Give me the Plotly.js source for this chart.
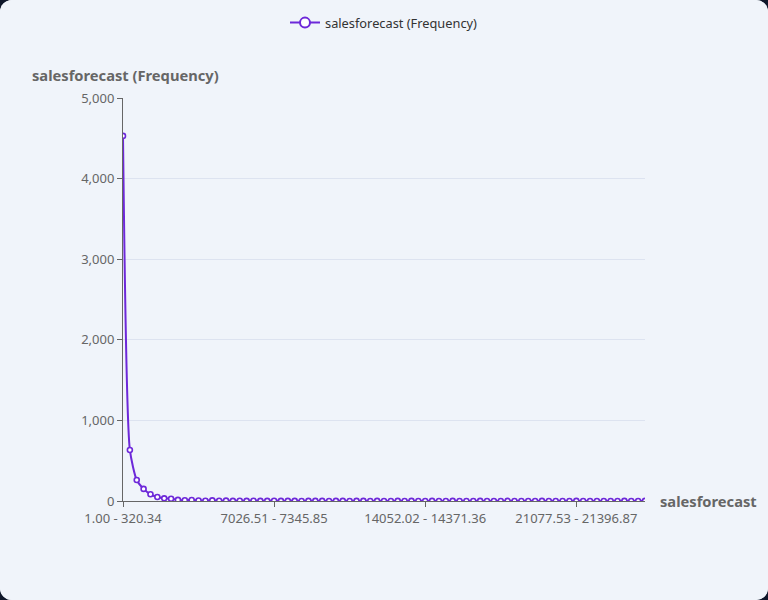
<!DOCTYPE html>
<html><head><meta charset="utf-8">
<script src="https://cdn.plot.ly/plotly-3.0.1.min.js"></script>
<style>
html,body{margin:0;padding:0;background:#0f172a;}
#chart{width:768px;height:600px;border-radius:12px;overflow:hidden;background:#f0f4fa;}
</style></head>
<body><div id="chart"></div>
<script>
// Bin edges of the salesforecast histogram
const binStart = 1.00;
const binWidth = 319.3413;
const binCount = 77;
const categories = [];
for (let i = 0; i < binCount; i++) {
  const lo = binStart + i * binWidth, hi = lo + binWidth;
  categories.push(lo.toFixed(2) + ' - ' + hi.toFixed(2));
}
// Frequencies
const frequency = [
  4530, 633, 260, 150, 83, 50, 33, 28, 14, 10, 12, 6, 4, 8, 3, 5, 2, 4, 2, 3,
  1, 2, 3, 1, 2, 1, 0, 2, 1, 1, 0, 1, 2, 0, 1, 1, 0, 1, 0, 0,
  1, 0, 1, 0, 0, 1, 0, 0, 1, 0, 0, 0, 1, 0, 0, 0, 1, 0, 0, 0,
  0, 1, 0, 0, 0, 0, 1, 0, 0, 0, 0, 0, 0, 1, 0, 0, 1
];
const tickLabels = [categories[0], categories[22], categories[44], categories[66]];
const seriesName = 'salesforecast (Frequency)';
const xTitle = 'salesforecast';

const purple = '#6d28d9';
const trace = {
  x: categories, y: frequency, type: 'scatter', mode: 'lines+markers',
  name: seriesName, showlegend: false,
  line: {color: purple, width: 2, shape: 'spline', smoothing: 0.6},
  marker: {color: '#ffffff', size: 5, line: {color: purple, width: 1.6}}
};
// legend entry only (no points), with the larger legend symbol
const legendTrace = {
  x: [null], y: [null], type: 'scatter', mode: 'lines+markers',
  name: seriesName, showlegend: true, hoverinfo: 'skip',
  line: {color: purple, width: 2},
  marker: {color: '#ffffff', size: 10, line: {color: purple, width: 2}}
};
const FF = '"Noto Sans", sans-serif';
const layout = {
  width: 768, height: 600,
  paper_bgcolor: '#f0f4fa', plot_bgcolor: '#f0f4fa',
  margin: {l: 123, r: 123, t: 98, b: 99},
  font: {family: FF, color: '#666', size: 13},
  showlegend: true,
  legend: {orientation: 'h', x: 0.5, xanchor: 'center', y: 0.962, yref: 'container', yanchor: 'middle',
           font: {family: FF, size: 12.8, color: '#333'}, bgcolor: 'rgba(0,0,0,0)'},
  xaxis: {
    type: 'category', range: [0, binCount - 1],
    tickmode: 'array', tickvals: tickLabels, ticktext: tickLabels,
    showgrid: false, zeroline: false,
    showline: true, linecolor: '#666', linewidth: 1,
    ticks: 'outside', ticklen: 5, tickcolor: '#666',
    tickfont: {family: FF, size: 13, color: '#666'}
  },
  yaxis: {
    range: [0, 5000], tickvals: [0, 1000, 2000, 3000, 4000, 5000],
    tickformat: ',d',
    showgrid: true, gridcolor: '#dde3f0', zeroline: false,
    showline: true, linecolor: '#666', linewidth: 1,
    ticks: 'outside', ticklen: 5, tickcolor: '#666',
    tickfont: {family: FF, size: 13, color: '#666'}
  },
  annotations: [
    {text: '<b>' + seriesName + '</b>', xref: 'paper', yref: 'paper', x: -0.178, y: 1.028,
     xanchor: 'left', yanchor: 'bottom', showarrow: false,
     font: {family: FF, size: 14.7, color: '#666'}},
    {text: '<b>' + xTitle + '</b>', xref: 'paper', yref: 'paper', x: 1.025, y: 0,
     xanchor: 'left', yanchor: 'middle', showarrow: false,
     font: {family: FF, size: 14.7, color: '#666'}}
  ]
};
Plotly.newPlot('chart', [trace, legendTrace], layout, {displayModeBar: false, staticPlot: true});
</script></body></html>
